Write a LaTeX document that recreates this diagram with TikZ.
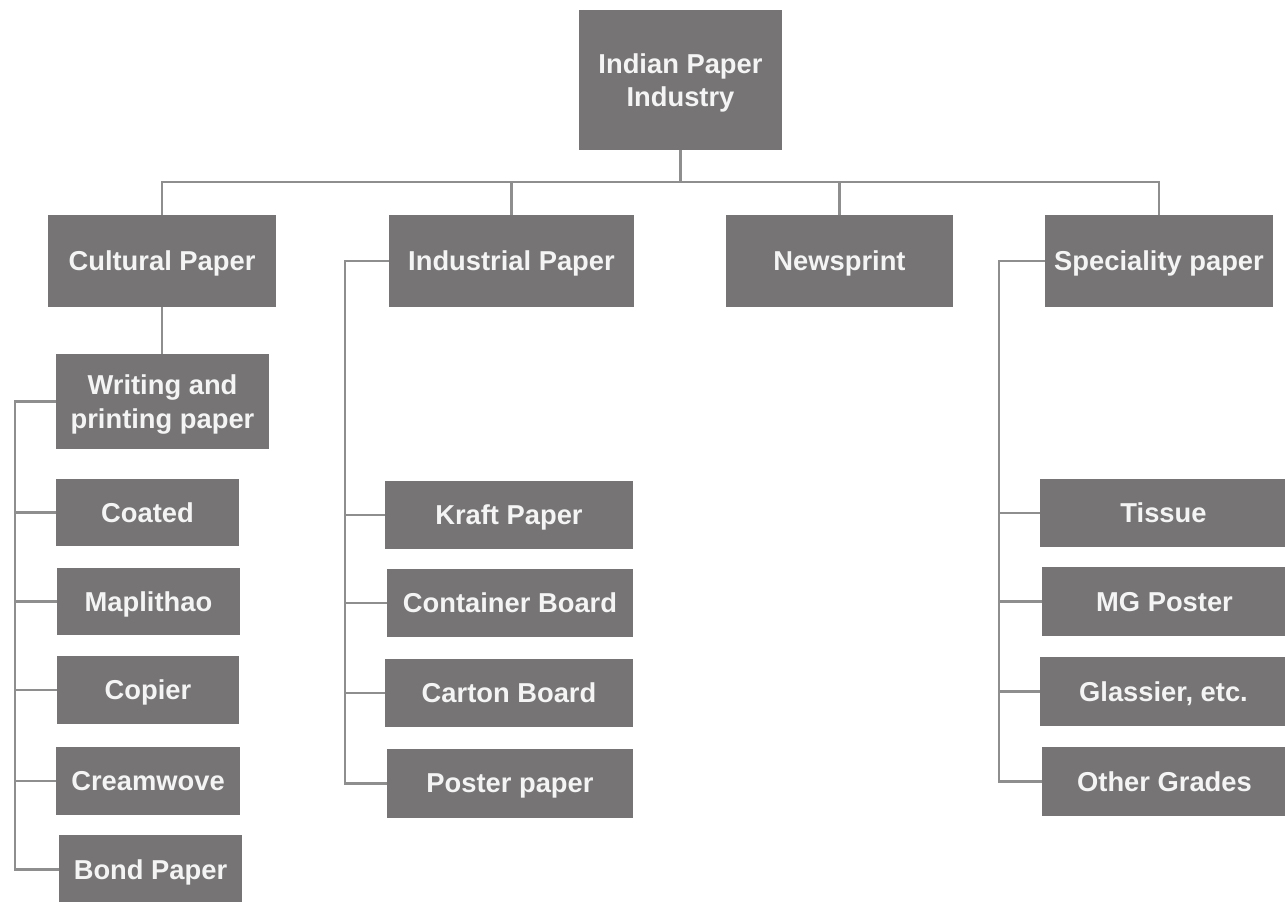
\documentclass[tikz,border=0pt]{standalone}
\usepackage{fontspec}
\setmainfont{Liberation Sans}
\definecolor{boxgray}{HTML}{767474}
\definecolor{linegray}{HTML}{8E8E8E}
\definecolor{labelwhite}{HTML}{F4F4F4}
\tikzset{
  catbox/.style={fill=boxgray, draw=none, inner sep=0pt, align=center,
    text depth=0pt,
    text=labelwhite, font=\fontsize{20.5}{25}\selectfont\bfseries},
  link/.style={draw=linegray, line width=2.1pt}
}
% box from its corners: name, x1, y1, x2, y2, text
\newcommand\cornerbox[6]{%
  \node[catbox, minimum width={(#4-#2)*0.75pt}, minimum height={(#5-#3)*0.75pt}]
    (#1) at ({(#2+#4)/2},{(#3+#5)/2}) {#6};}
\begin{document}
\begin{tikzpicture}[x=0.75pt, y=-0.75pt]
\useasboundingbox (0,0) rectangle (1285,902);

% top level
\cornerbox{root}{579}{10}{782}{150}{Indian Paper\\Industry}

% categories
\cornerbox{cult}{48}{215}{276}{307}{Cultural Paper}
\cornerbox{ind}{389}{215}{634}{307}{Industrial Paper}
\cornerbox{news}{726}{215}{953}{307}{Newsprint}
\cornerbox{spec}{1045}{215}{1273}{307}{Speciality paper}

% cultural paper
\cornerbox{write}{56}{354}{269}{449}{\fontsize{20.5}{24}\selectfont Writing and\\printing paper}
\cornerbox{coat}{56}{479}{239}{546}{Coated}
\cornerbox{mapl}{57}{568}{240}{635}{Maplithao}
\cornerbox{copi}{57}{656}{239}{724}{Copier}
\cornerbox{cream}{56}{747}{240}{815}{Creamwove}
\cornerbox{bond}{59}{835}{242}{904}{Bond Paper}

% industrial paper
\cornerbox{kraft}{385}{481}{633}{549}{Kraft Paper}
\cornerbox{cont}{387}{569}{633}{637}{Container Board}
\cornerbox{cart}{385}{659}{633}{727}{Carton Board}
\cornerbox{post}{387}{749}{633}{818}{Poster paper}

% speciality paper
\cornerbox{tiss}{1040}{479}{1287}{547}{Tissue}
\cornerbox{mgp}{1042}{567}{1287}{636}{MG Poster}
\cornerbox{glas}{1040}{657}{1287}{726}{Glassier, etc.}
\cornerbox{other}{1042}{747}{1287}{816}{Other Grades}

% main bus
\coordinate (bus) at (681,182);
\draw[link] (root.south) -- (root.south |- bus);
\draw[link] (cult.north) |- (bus) -| (spec.north);
\draw[link] (ind.north) -- (ind.north |- bus);
\draw[link] (news.north) -- (news.north |- bus);

% cultural branch
\coordinate (lx) at (15,0);
\draw[link] (cult.south) -- (cult.south |- write.north);
\draw[link] (write.west) -| (lx |- bond.west) -- (bond.west);
\foreach \b in {coat,mapl,copi,cream}
  \draw[link] (lx |- \b.west) -- (\b.west);

% industrial branch
\coordinate (ix) at (345,0);
\draw[link] (ind.west) -| (ix |- post.west) -- (post.west);
\foreach \b in {kraft,cont,cart}
  \draw[link] (ix |- \b.west) -- (\b.west);

% speciality branch
\coordinate (sx) at (999,0);
\draw[link] (spec.west) -| (sx |- other.west) -- (other.west);
\foreach \b in {tiss,mgp,glas}
  \draw[link] (sx |- \b.west) -- (\b.west);
\end{tikzpicture}
\end{document}
